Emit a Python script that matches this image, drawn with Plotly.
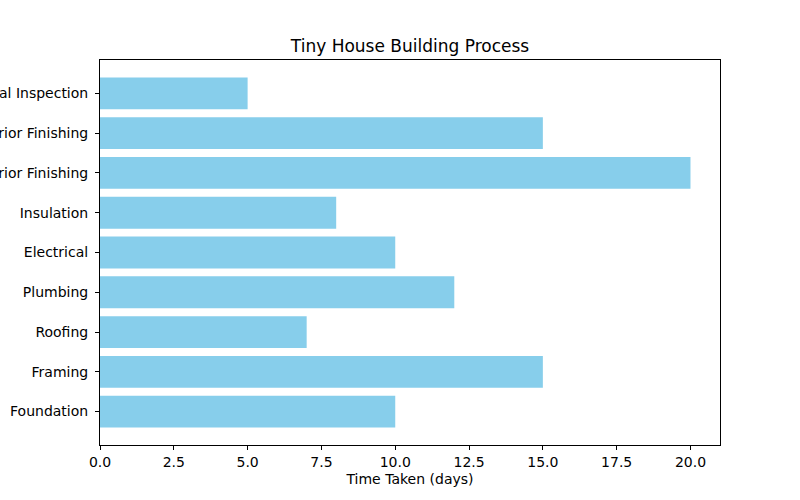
import plotly.graph_objects as go

stages = ['Foundation', 'Framing', 'Roofing', 'Plumbing', 'Electrical',
          'Insulation', 'Interior Finishing', 'Exterior Finishing', 'Final Inspection']
days = [10, 15, 7, 12, 10, 8, 20, 15, 5]

fig = go.Figure()
fig.add_trace(go.Bar(y=stages, x=days, orientation='h', marker_color='#87CEEB',
                     marker_line_width=0, width=0.8))

fig.update_layout(
    width=800, height=500,
    margin=dict(l=100, r=80, t=60, b=55, autoexpand=False),
    paper_bgcolor='white', plot_bgcolor='white',
    font=dict(family='DejaVu Sans', size=14, color='black'),
    title=dict(text='Tiny House Building Process', x=410 / 800, xanchor='center',
               y=1 - 46 / 500, yanchor='middle', font=dict(size=17)),
    showlegend=False, bargap=0.2,
)
fig.update_xaxes(range=[0, 21], tickvals=[0, 2.5, 5, 7.5, 10, 12.5, 15, 17.5, 20],
                 ticktext=['0.0', '2.5', '5.0', '7.5', '10.0', '12.5', '15.0', '17.5', '20.0'],
                 showgrid=False, zeroline=False, showline=True, linecolor='black', linewidth=1,
                 mirror=True, ticks='outside', ticklen=4, tickcolor='black',
                 title=dict(text='Time Taken (days)', standoff=5, font=dict(size=14)),
                 automargin=False)
fig.update_yaxes(range=[-0.84, 8.84], showgrid=False, zeroline=False, showline=True,
                 linecolor='black', linewidth=1, mirror=True, ticks='outside', ticklen=4,
                 tickcolor='black', automargin=False, ticklabelstandoff=4)

# drop the default 8px body margin so the figure sits at the page corner
fig.write_html("out.html", config={'displayModeBar': False},
               post_script="document.body.style.margin='0';")
